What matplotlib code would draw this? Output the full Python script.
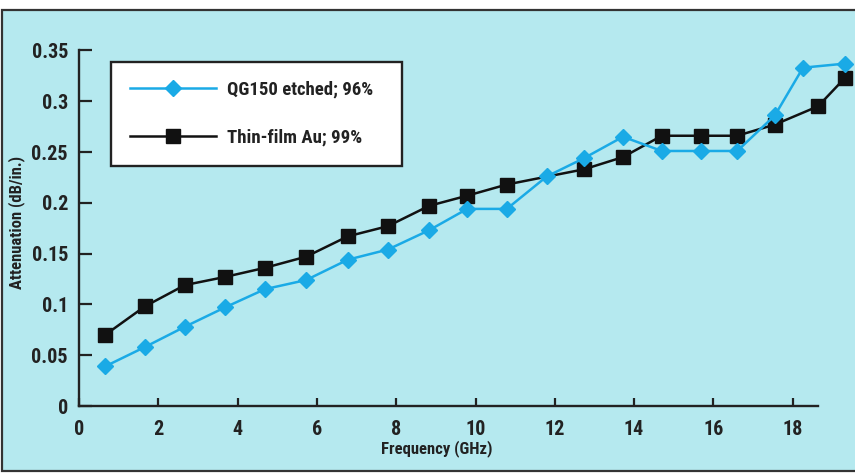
import matplotlib
matplotlib.use("Agg")
import matplotlib.pyplot as plt
from matplotlib.patches import Rectangle
from matplotlib import font_manager

# ---- data ----
qg_freq = [0.66, 1.66, 2.67, 3.68, 4.69, 5.73, 6.78, 7.79, 8.83, 9.79, 10.79,
           11.8, 12.74, 13.72, 14.7, 15.69, 16.6, 17.55, 18.26, 19.32]
qg_att = [0.039, 0.058, 0.078, 0.097, 0.115, 0.124, 0.144, 0.154, 0.173, 0.194,
          0.194, 0.226, 0.244, 0.265, 0.251, 0.251, 0.251, 0.286, 0.333, 0.337]
au_freq = [0.66, 1.66, 2.67, 3.68, 4.69, 5.73, 6.78, 7.79, 8.83, 9.79, 10.79,
           12.74, 13.72, 14.7, 15.69, 16.6, 17.55, 18.64, 19.32]
au_att = [0.070, 0.098, 0.119, 0.127, 0.136, 0.147, 0.167, 0.177, 0.197, 0.207,
          0.218, 0.233, 0.245, 0.266, 0.266, 0.266, 0.277, 0.295, 0.323]
x_ticks = [0, 2, 4, 6, 8, 10, 12, 14, 16, 18]
y_ticks = [0, 0.05, 0.1, 0.15, 0.2, 0.25, 0.3, 0.35]
y_tick_labels = ["0", "0.05", "0.1", "0.15", "0.2", "0.25", "0.3", "0.35"]
label_qg = "QG150 etched; 96%"
label_au = "Thin-film Au; 99%"

# pick a condensed bold font if one is installed
fl = font_manager.fontManager.ttflist
bold_fams = {f.name for f in fl if (isinstance(f.weight, int) and f.weight >= 700) or f.weight in ("bold", "heavy", "black")}
priority = ["Nimbus Sans Narrow", "Liberation Sans Narrow", "Arial Narrow", "Archivo Narrow",
            "Roboto Condensed", "PT Sans Narrow", "Pragati Narrow", "Fira Sans Condensed",
            "IBM Plex Sans Condensed", "Open Sans Condensed", "Encode Sans Condensed",
            "Asap Condensed", "Barlow Condensed", "Sofia Sans Condensed", "Saira Condensed"]
chosen = None
for p in priority:
    if p in bold_fams:
        chosen = p
        break
if chosen is None:
    names = {f.name for f in fl}
    for p in priority:
        if p in names:
            chosen = p
            break
FAM = [chosen, "DejaVu Sans"] if chosen else ["DejaVu Sans"]
plt.rcParams["font.family"] = FAM
plt.rcParams["font.weight"] = "bold"

W, H = 855, 474
fig = plt.figure(figsize=(W / 100, H / 100), dpi=100, facecolor="white")

BG = "#b5e9ef"
fig.patches.append(Rectangle((2 / W, 3 / H), 1.0, 1 - 13 / H, transform=fig.transFigure,
                             facecolor=BG, edgecolor="#333333", lw=1.6, zorder=-10))

px_per_ghz = 39.65
px_per_unit = 1016.0
x0_px, y0_px = 79, 406
ax = fig.add_axes([x0_px / W, (H - y0_px) / H, (W - x0_px) / W, (y0_px - 30) / H])
ax.set_zorder(1)
ax.set_facecolor("none")
ax.set_xlim(0, (W - x0_px) / px_per_ghz)
ax.set_ylim(0, (y0_px - 30) / px_per_unit)

CYAN = "#1aaae6"
ax.plot(au_freq, au_att, color="#111111", lw=1.8, marker="s", markersize=10,
        markerfacecolor="#111111", markeredgecolor="#111111", label=label_au, zorder=3,
        clip_on=False)
ax.plot(qg_freq, qg_att, color=CYAN, lw=1.8, marker="D", markersize=8,
        markerfacecolor=CYAN, markeredgecolor=CYAN, label=label_qg, zorder=4,
        clip_on=False)

for s in ["top", "right"]:
    ax.spines[s].set_visible(False)
ax.spines["left"].set_bounds(0, 0.35)
ax.spines["bottom"].set_bounds(0, 18.63)
for s in ["left", "bottom"]:
    ax.spines[s].set_color("#222222")
    ax.spines[s].set_linewidth(1.7)

ax.set_xticks(x_ticks)
ax.set_xticklabels([str(v) for v in x_ticks])
ax.set_yticks(y_ticks)
ax.set_yticklabels(y_tick_labels)
ax.tick_params(axis="y", direction="in", length=9, width=1.6, pad=8,
               labelsize=14.5, colors="#222222")
ax.tick_params(axis="x", direction="in", length=6, width=1.6, pad=10,
               labelsize=14.5, colors="#222222")

ax.set_xlabel("Frequency (GHz)", fontsize=12, fontweight="bold", color="#222222")
ax.xaxis.set_label_coords((437 - x0_px) / (W - x0_px), -(440 - y0_px) / (y0_px - 30))
ax.set_ylabel("Attenuation (dB/in.)", fontsize=12, fontweight="bold", color="#222222")
ax.yaxis.set_label_coords(-(x0_px - 25) / (W - x0_px), (y0_px - 222) / (y0_px - 30))

handles, labels = ax.get_legend_handles_labels()
leg = ax.legend(handles[::-1], labels[::-1],
                bbox_to_anchor=(111 / W, (H - 168) / H, 291 / W, 106 / H),
                bbox_transform=fig.transFigure, loc="upper left", mode="expand",
                fontsize=13.5, handlelength=4.6, handletextpad=0.6, labelspacing=1.6,
                borderpad=1.0, borderaxespad=0, fancybox=False, frameon=True)
leg.get_frame().set_edgecolor("#222222")
leg.get_frame().set_linewidth(1.7)
leg.get_frame().set_facecolor("white")
leg.get_frame().set_alpha(1)
leg.set_zorder(5)
for t in leg.get_texts():
    t.set_color("#222222")

fig.savefig("out.png", dpi=100, facecolor="white")
